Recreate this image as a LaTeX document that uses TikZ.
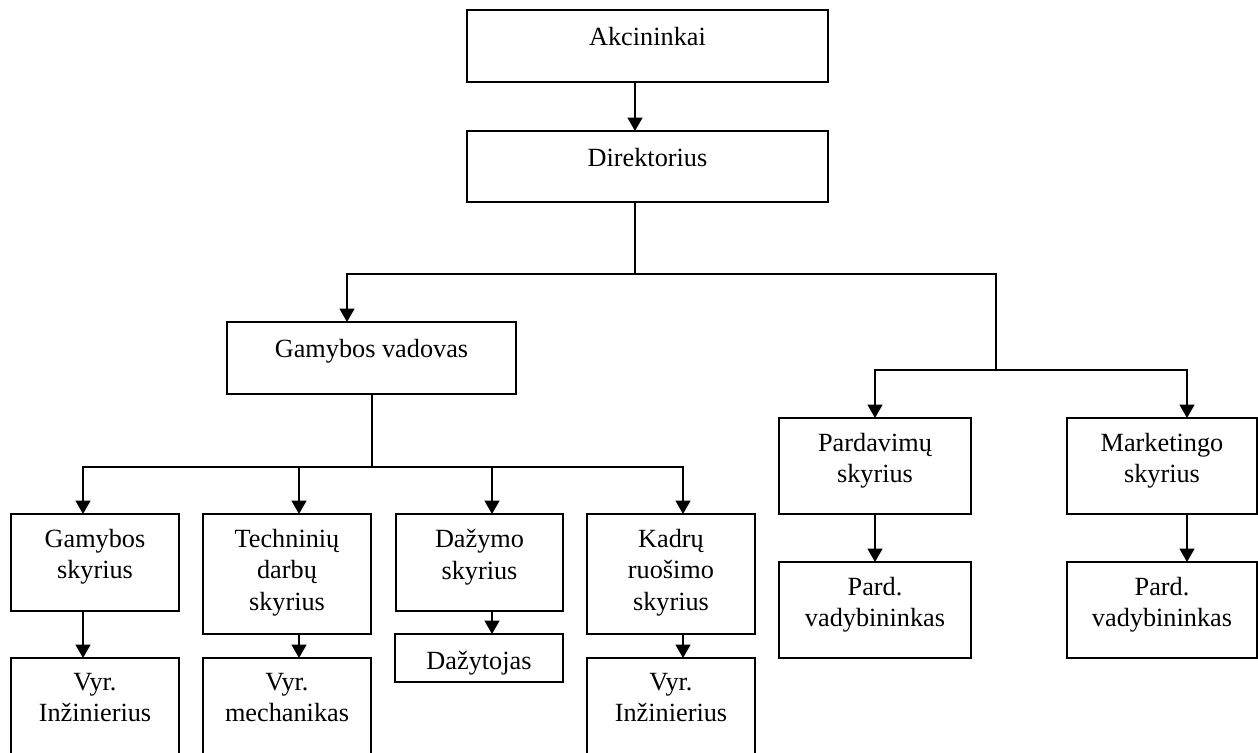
\documentclass[tikz,border=0pt]{standalone}
\usepackage{fontspec}
\setmainfont{Liberation Serif}
\usetikzlibrary{arrows.meta}

% one box of the chart: name, left, top, right, bottom, text
\newcommand\orgbox[6]{%
  \node[box, minimum width={(#4-#2)*0.75pt}, minimum height={(#5-#3)*0.75pt}] (#1) at (#2,#3) {};
  \node[lbl] (#1t) at ([yshift=-11.45pt]#1.north) {#6};}

\begin{document}
\begin{tikzpicture}[x=0.75pt, y=-0.75pt,
  box/.style={draw, line width=1.15pt, rectangle, inner sep=0pt, outer sep=0pt, anchor=north west},
  lbl/.style={anchor=north, align=center, inner sep=0pt,
    font=\fontsize{19.7}{23.4}\selectfont,
    execute at begin node={\rule{0pt}{14.8pt}}},
  link/.style={line width=1.15pt},
  arr/.style={link, -{Triangle[length=10.1pt, width=11.25pt]}}]
\useasboundingbox (0,0) rectangle (1258,753);
\clip (0,0) rectangle (1258,753);

% boxes
\orgbox{A}{467}{10}{828}{82}{Akcininkai}
\orgbox{D}{467}{131}{828}{202}{Direktorius}
\orgbox{GV}{227}{322}{516}{394}{Gamybos vadovas}
\orgbox{GS}{11}{514}{179}{611}{Gamybos\\skyrius}
\orgbox{TD}{203}{514}{371}{634}{Techninių\\darbų\\skyrius}
\orgbox{DZ}{396}{514}{563}{611}{Dažymo\\skyrius}
\orgbox{KR}{587}{514}{755}{634}{Kadrų\\ruošimo\\skyrius}
\orgbox{VIa}{11}{658}{179}{775}{Vyr.\\Inžinierius}
\orgbox{VM}{203}{658}{371}{775}{Vyr.\\mechanikas}
\orgbox{DT}{395}{634}{563}{682}{Dažytojas}
\orgbox{VIb}{587}{658}{755}{775}{Vyr.\\Inžinierius}
\orgbox{PS}{779}{418}{971}{514}{Pardavimų\\skyrius}
\orgbox{MS}{1067}{418}{1257}{514}{Marketingo\\skyrius}
\orgbox{PVa}{779}{562}{971}{658}{Pard.\\vadybininkas}
\orgbox{PVb}{1067}{562}{1257}{658}{Pard.\\vadybininkas}

% columns of the connectors
\coordinate (cD) at (635,0);
\coordinate (cGV) at (347,0);
\coordinate (cGS) at (83,0);
\coordinate (cTD) at (299,0);
\coordinate (cDZ) at (492,0);
\coordinate (cKR) at (683,0);
\coordinate (cPS) at (875,0);
\coordinate (cMS) at (1187,0);

% junctions
\coordinate (j1) at (635,274);
\coordinate (j2) at (996,370);
\coordinate (j3) at (372,467);

% connectors
\draw[arr] (A.south -| cD) -- (D.north -| cD);
\draw[link] (D.south -| j1) -- (j1);
\draw[arr] (j1) -| (GV.north -| cGV);
\draw[link] (j1) -| (j2);
\draw[arr] (j2) -| (PS.north -| cPS);
\draw[arr] (j2) -| (MS.north -| cMS);

\draw[link] (GV.south -| j3) -- (j3);
\draw[arr] (j3) -| (GS.north -| cGS);
\draw[arr] (j3) -| (TD.north -| cTD);
\draw[arr] (j3) -| (DZ.north -| cDZ);
\draw[arr] (j3) -| (KR.north -| cKR);

\draw[arr] (GS.south -| cGS) -- (VIa.north -| cGS);
\draw[arr] (TD.south -| cTD) -- (VM.north -| cTD);
\draw[arr] (DZ.south -| cDZ) -- (DT.north -| cDZ);
\draw[arr] (KR.south -| cKR) -- (VIb.north -| cKR);
\draw[arr] (PS.south -| cPS) -- (PVa.north -| cPS);
\draw[arr] (MS.south -| cMS) -- (PVb.north -| cMS);
\end{tikzpicture}
\end{document}
